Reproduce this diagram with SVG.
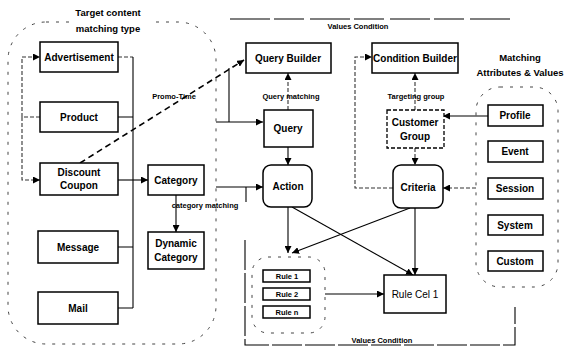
<svg xmlns="http://www.w3.org/2000/svg" width="568" height="349" viewBox="0 0 568 349">
<defs>
<marker id="ah" markerWidth="7" markerHeight="7" refX="7" refY="3.5" orient="auto" markerUnits="userSpaceOnUse">
<path d="M0,0 L7,3.5 L0,7 z" fill="#000"/>
</marker>
<style>
.n{fill:#fff;stroke:#000;stroke-width:1.5}
.nd{fill:#fff;stroke:#000;stroke-width:1.3;stroke-dasharray:4 2}
.t{font-family:"Liberation Sans",Arial,sans-serif;font-size:10px;font-weight:bold;fill:#000;text-anchor:middle}
.r{font-family:"Liberation Sans",Arial,sans-serif;font-size:10px;fill:#000;text-anchor:middle}
.s{font-family:"Liberation Sans",Arial,sans-serif;font-size:7.5px;font-weight:bold;fill:#000;text-anchor:middle}
.h{font-family:"Liberation Sans",Arial,sans-serif;font-size:9.5px;font-weight:bold;fill:#000;text-anchor:middle}
.g{fill:none;stroke:#444;stroke-width:1;stroke-dasharray:3 7}
.l{fill:none;stroke:#000;stroke-width:1.1}
.d{fill:none;stroke:#333;stroke-width:1.1;stroke-dasharray:4 2}
.dd{fill:none;stroke:#000;stroke-width:1.6;stroke-dasharray:6 4}
</style>
</defs>
<rect width="568" height="349" fill="#fff"/>

<g id="groups">
<rect class="g" x="8" y="22" width="208" height="322" rx="38"/>
<rect x="70" y="4" width="80" height="32" fill="#fff"/>
<text class="h" x="108" y="16">Target content</text>
<text class="h" x="108" y="32">matching type</text>
<rect class="g" x="476" y="87" width="82" height="200" rx="24"/>
<text class="h" x="520" y="61">Matching</text>
<text class="h" x="520" y="76">Attributes &amp; Values</text>
<rect class="g" x="252" y="257" width="73" height="76" rx="16"/>
</g>

<g id="connectors">
<path class="d" d="M118,57 H133"/>
<path class="l" d="M133,57 V308"/>
<path class="l" d="M118,117 H133 M118,247 H133 M118,308 H133"/>
<path class="l" d="M118,180 H148" marker-end="url(#ah)"/>
<path class="d" d="M22,117 V57 H40" marker-end="url(#ah)"/>
<path class="d" d="M40,117 H22 V180 H40" marker-end="url(#ah)"/>
<path class="dd" d="M80,163 L244,60" marker-end="url(#ah)"/>
<text class="s" x="174" y="99">Promo-Time</text>
<path class="l" d="M229,68 V122"/>
<path class="l" d="M216,122 H263" marker-end="url(#ah)"/>
<path class="l" d="M216,187 H263" marker-end="url(#ah)"/>
<path class="l" d="M246,187 V202"/>
<path class="l" d="M176,195 V232" marker-end="url(#ah)"/>
<text class="s" x="205" y="208">category matching</text>
<path class="d" d="M288,110 V73" marker-end="url(#ah)"/>
<text class="s" x="291" y="99">Query matching</text>
<path class="l" d="M288,147 V165" marker-end="url(#ah)"/>
<path class="l" d="M288,207 V253" marker-end="url(#ah)"/>
<path class="l" d="M410,208 L292,253" marker-end="url(#ah)"/>
<path class="l" d="M292,207 L413,275" marker-end="url(#ah)"/>
<path class="l" d="M415,208 V275" marker-end="url(#ah)"/>
<path class="l" d="M325,294 H384" marker-end="url(#ah)"/>
<path class="d" d="M393,188 H355 V57 H372" marker-end="url(#ah)"/>
<path class="d" d="M415,110 V73" marker-end="url(#ah)"/>
<text class="s" x="416" y="99">Targeting group</text>
<path class="d" d="M415,148 V165" marker-end="url(#ah)"/>
<path class="l" d="M488,116 H443" marker-end="url(#ah)"/>
<path class="d" d="M476,188 H443" marker-end="url(#ah)"/>
<path class="l" d="M230,19 H510" stroke-dasharray="40 4 30 6"/>
<text class="s" x="358" y="29">Values Condition</text>
<path class="l" d="M245,240 V345 H515 V307" stroke-dasharray="30 3"/>
<text class="s" x="382" y="343">Values Condition</text>
</g>

<g id="advertisement"><rect class="n" x="40" y="42" width="78" height="30"/><text class="t" x="79" y="61">Advertisement</text></g>
<g id="product"><rect class="n" x="40" y="102" width="78" height="30"/><text class="t" x="79" y="121">Product</text></g>
<g id="discount-coupon"><rect class="n" x="40" y="163" width="78" height="32"/><text class="t" x="79" y="176">Discount</text><text class="t" x="79" y="189">Coupon</text></g>
<g id="message"><rect class="n" x="38" y="231" width="80" height="32"/><text class="t" x="78" y="251">Message</text></g>
<g id="mail"><rect class="n" x="38" y="292" width="80" height="32"/><text class="t" x="78" y="312">Mail</text></g>
<g id="category"><rect class="n" x="148" y="165" width="56" height="30"/><text class="t" x="176" y="184">Category</text></g>
<g id="dynamic-category"><rect class="n" x="148" y="232" width="56" height="37"/><text class="t" x="176" y="247">Dynamic</text><text class="t" x="176" y="261">Category</text></g>
<g id="query-builder"><rect class="n" x="246" y="43" width="85" height="30"/><text class="t" x="288" y="62">Query Builder</text></g>
<g id="query"><rect class="n" x="264" y="110" width="49" height="37"/><text class="t" x="288" y="132">Query</text></g>
<g id="action"><rect class="n" x="263" y="165" width="49" height="42" rx="8"/><text class="t" x="288" y="190">Action</text></g>
<g id="condition-builder"><rect class="n" x="372" y="43" width="86" height="30"/><text class="t" x="415" y="62">Condition Builder</text></g>
<g id="customer-group"><rect class="nd" x="387" y="110" width="57" height="38"/><text class="t" x="415" y="126">Customer</text><text class="t" x="415" y="140">Group</text></g>
<g id="criteria"><rect class="n" x="393" y="165" width="50" height="43" rx="8"/><text class="t" x="418" y="191">Criteria</text></g>
<g id="profile"><rect class="n" x="488" y="105" width="55" height="21"/><text class="t" x="515" y="119">Profile</text></g>
<g id="event"><rect class="n" x="488" y="141" width="55" height="21"/><text class="t" x="515" y="155">Event</text></g>
<g id="session"><rect class="n" x="488" y="178" width="55" height="21"/><text class="t" x="515" y="192">Session</text></g>
<g id="system"><rect class="n" x="488" y="215" width="55" height="20"/><text class="t" x="515" y="229">System</text></g>
<g id="custom"><rect class="n" x="488" y="251" width="55" height="20"/><text class="t" x="515" y="265">Custom</text></g>
<g id="rule-1"><rect class="n" x="263" y="270" width="47" height="12"/><text class="s" x="287" y="279">Rule 1</text></g>
<g id="rule-2"><rect class="n" x="263" y="288" width="47" height="12"/><text class="s" x="287" y="297">Rule 2</text></g>
<g id="rule-n"><rect class="n" x="263" y="306" width="47" height="12"/><text class="s" x="287" y="315">Rule n</text></g>
<g id="rule-cel-1"><rect class="n" x="384" y="275" width="62" height="38"/><text class="r" x="415" y="298">Rule Cel 1</text></g>
</svg>
